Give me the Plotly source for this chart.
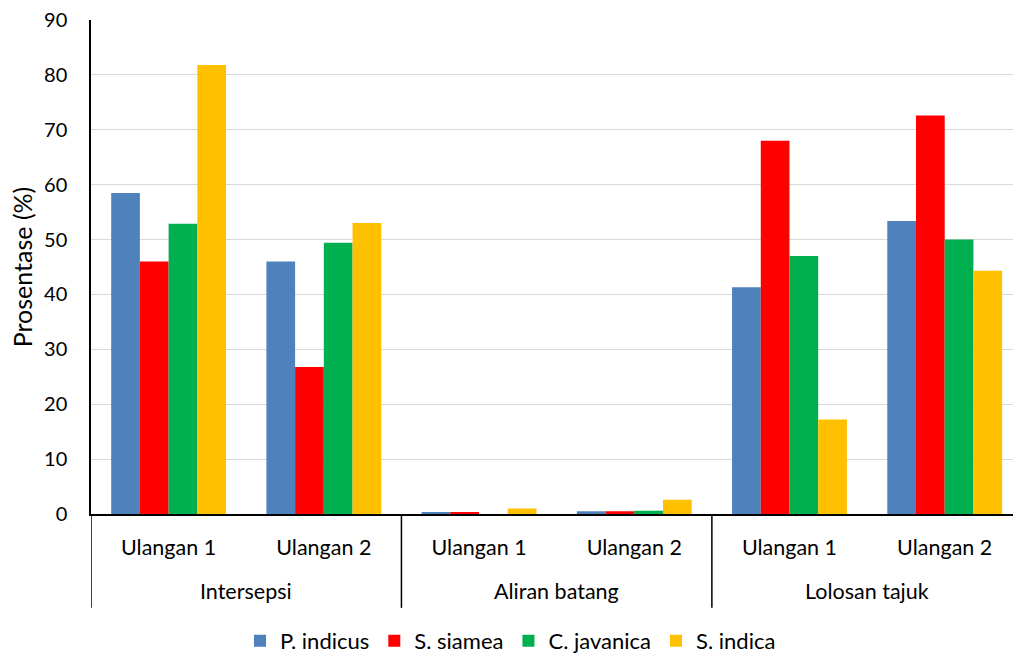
import plotly.graph_objects as go

groups = ["Intersepsi", "Aliran batang", "Lolosan tajuk"]
reps = ["Ulangan 1", "Ulangan 2", "Ulangan 1", "Ulangan 2", "Ulangan 1", "Ulangan 2"]

p_indicus = [58.5, 46.0, 0.3, 0.5, 41.3, 53.4]
s_siamea = [46.0, 26.8, 0.3, 0.5, 68.0, 72.6]
c_javanica = [52.9, 49.4, 0.0, 0.6, 47.0, 50.0]
s_indica = [81.8, 53.0, 1.0, 2.6, 17.2, 44.3]

series = [
    ("P. indicus", p_indicus, "#4F81BD"),
    ("S. siamea", s_siamea, "#FF0000"),
    ("C. javanica", c_javanica, "#00B050"),
    ("S. indica", s_indica, "#FFC000"),
]

font_family = "Lato, Liberation Sans, Arial, sans-serif"
xpos = list(range(len(reps)))
per_group = len(reps) // len(groups)

fig = go.Figure()
for name, vals, color in series:
    fig.add_trace(go.Bar(x=xpos, y=vals, name=name, marker_color=color,
                         marker_line_width=0))

# group labels and dividers
for gi, g in enumerate(groups):
    members = xpos[gi * per_group:(gi + 1) * per_group]
    center = sum(members) / len(members)
    fig.add_annotation(x=center, y=-0.156, xref="x", yref="paper", text=g,
                       showarrow=False, yanchor="middle", font=dict(size=21.5))
    left = members[0] - 0.5
    fig.add_shape(type="line", xref="x", yref="paper", x0=left, x1=left, y0=0, y1=-0.19,
                  line=dict(color="#000000", width=1.5))

fig.update_layout(
    width=1013, height=654,
    margin=dict(l=91, r=0, t=20, b=140, autoexpand=False),
    paper_bgcolor="white", plot_bgcolor="white",
    barmode="group", bargap=0.26, bargroupgap=0,
    font=dict(family=font_family, size=21, color="#000000"),
    showlegend=True,
    legend=dict(orientation="h", x=0.455, xanchor="center", y=-0.257, yanchor="middle",
                font=dict(size=22), itemwidth=30, traceorder="normal"),
    xaxis=dict(range=[-0.5, 5.44], showline=True, linecolor="#000000", linewidth=1.5,
               tickvals=xpos, ticktext=reps, ticks="", showgrid=False, zeroline=False,
               tickfont=dict(size=21.5), ticklabelstandoff=13, automargin=False),
    yaxis=dict(range=[0, 90], dtick=10, showgrid=True, gridcolor="#D9D9D9", gridwidth=1,
               showline=True, linecolor="#000000", linewidth=1.5, zeroline=False,
               title=dict(text="Prosentase (%)", font=dict(size=25), standoff=4),
               tickfont=dict(size=20), ticks="", ticklabelstandoff=18, automargin=False),
)

fig.write_html("out.html")
